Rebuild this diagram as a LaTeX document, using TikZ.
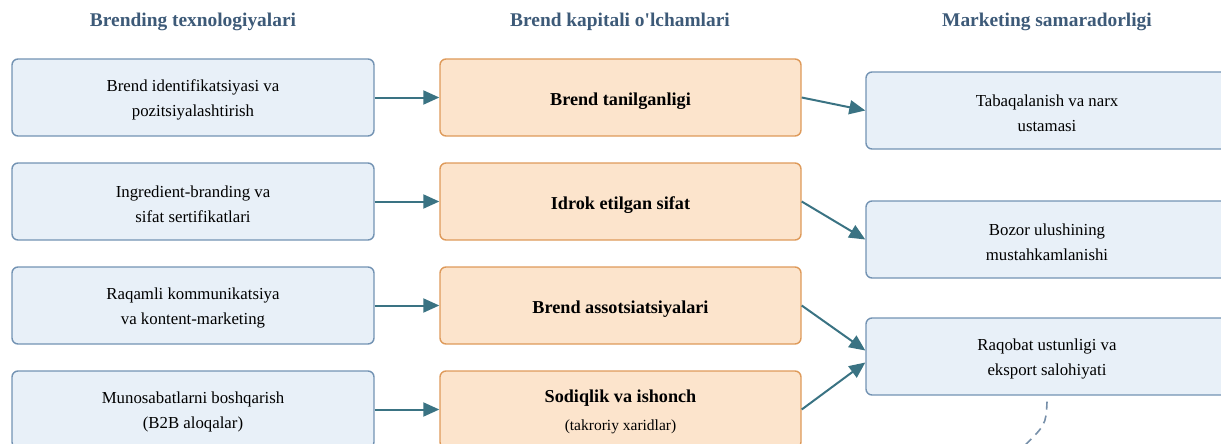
\documentclass[tikz,border=0pt]{standalone}
\usepackage{fontspec}
\setmainfont{Liberation Serif}[Ligatures=TeXOff]
\usepackage{xcolor}
\usetikzlibrary{positioning,calc,arrows.meta}
\definecolor{techfill}{HTML}{E8F0F8}
\definecolor{techline}{HTML}{7393B3}
\definecolor{eqfill}{HTML}{FCE4CC}
\definecolor{eqline}{HTML}{DE9A5A}
\definecolor{flow}{HTML}{3A7383}
\definecolor{head}{HTML}{3D5A78}

\begin{document}
\begin{tikzpicture}[x=1pt,y=-1pt,
    techbox/.style={draw=techline, fill=techfill, line width=1.4pt, rounded corners=6pt,
        minimum width=362pt, minimum height=77pt, inner sep=0pt, align=center,
        text height=42.5pt, font=\fontsize{16.8}{25}\selectfont},
    eqbox/.style={draw=eqline, fill=eqfill, line width=1.4pt, rounded corners=6pt,
        minimum width=361pt, minimum height=77pt, inner sep=0pt, align=center,
        text height=20pt, font=\fontsize{18.2}{25}\selectfont\bfseries},
    header/.style={font=\fontsize{19.4}{22}\selectfont\bfseries, text=head},
    flowarrow/.style={draw=flow, line width=2pt, -{Triangle[length=16pt,width=14pt]}}]
    \useasboundingbox (0,0) rectangle (1221,444);
    \clip (0,0) rectangle (1221,444);
    % Column headers
    \node[header] (h1) at (193,22) {Brending texnologiyalari};
    \node[header] (h2) at (620,22) {Brend kapitali o'lchamlari};
    \node[header] (h3) at (1047,22) {Marketing samaradorligi};
    % Branding technologies
    \node[techbox] (t1) at (193,97.5) {Brend identifikatsiyasi va\\pozitsiyalashtirish};
    \node[techbox] (t2) at (193,201.5) {Ingredient-branding va\\sifat sertifikatlari};
    \node[techbox] (t3) at (193,305.5) {Raqamli kommunikatsiya\\va kontent-marketing};
    \node[techbox] (t4) at (193,409.5) {Munosabatlarni boshqarish\\(B2B aloqalar)};
    % Brand equity dimensions
    \node[eqbox] (e1) at (620.5,97.5) {Brend tanilganligi};
    \node[eqbox] (e2) at (620.5,201.5) {Idrok etilgan sifat};
    \node[eqbox] (e3) at (620.5,305.5) {Brend assotsiatsiyalari};
    \node[eqbox, text height=46pt] (e4) at (620.5,409.5) {Sodiqlik va ishonch\\[3pt]{\fontsize{15.5}{18}\selectfont\mdseries (takroriy xaridlar)}};
    % Marketing performance
    \node[techbox] (r1) at (1047,110.5) {Tabaqalanish va narx\\ustamasi};
    \node[techbox] (r2) at (1047,239.5) {Bozor ulushining\\mustahkamlanishi};
    \node[techbox] (r3) at (1047,356.5) {Raqobat ustunligi va\\eksport salohiyati};
    % Connectors
    \draw[flowarrow] (t1.east) -- (e1.west);
    \draw[flowarrow] (t2.east) -- (e2.west);
    \draw[flowarrow] (t3.east) -- (e3.west);
    \draw[flowarrow] (t4.east) -- (e4.west);
    \draw[flowarrow] (e1.east) -- (r1.west);
    \draw[flowarrow] (e2.east) -- (r2.west);
    \draw[flowarrow] (e3.east) -- ([yshift=6pt]r3.west);
    \draw[flowarrow] (e4.east) -- ([yshift=-6pt]r3.west);
    % Feedback (cut off)
    \coordinate (fb) at (1018,452);
    \draw[techline!80!gray, line width=1.6pt, dash pattern=on 8pt off 6pt]
        ([yshift=-6pt]r3.south) .. controls (1046,425) .. (fb);
\end{tikzpicture}
\end{document}
